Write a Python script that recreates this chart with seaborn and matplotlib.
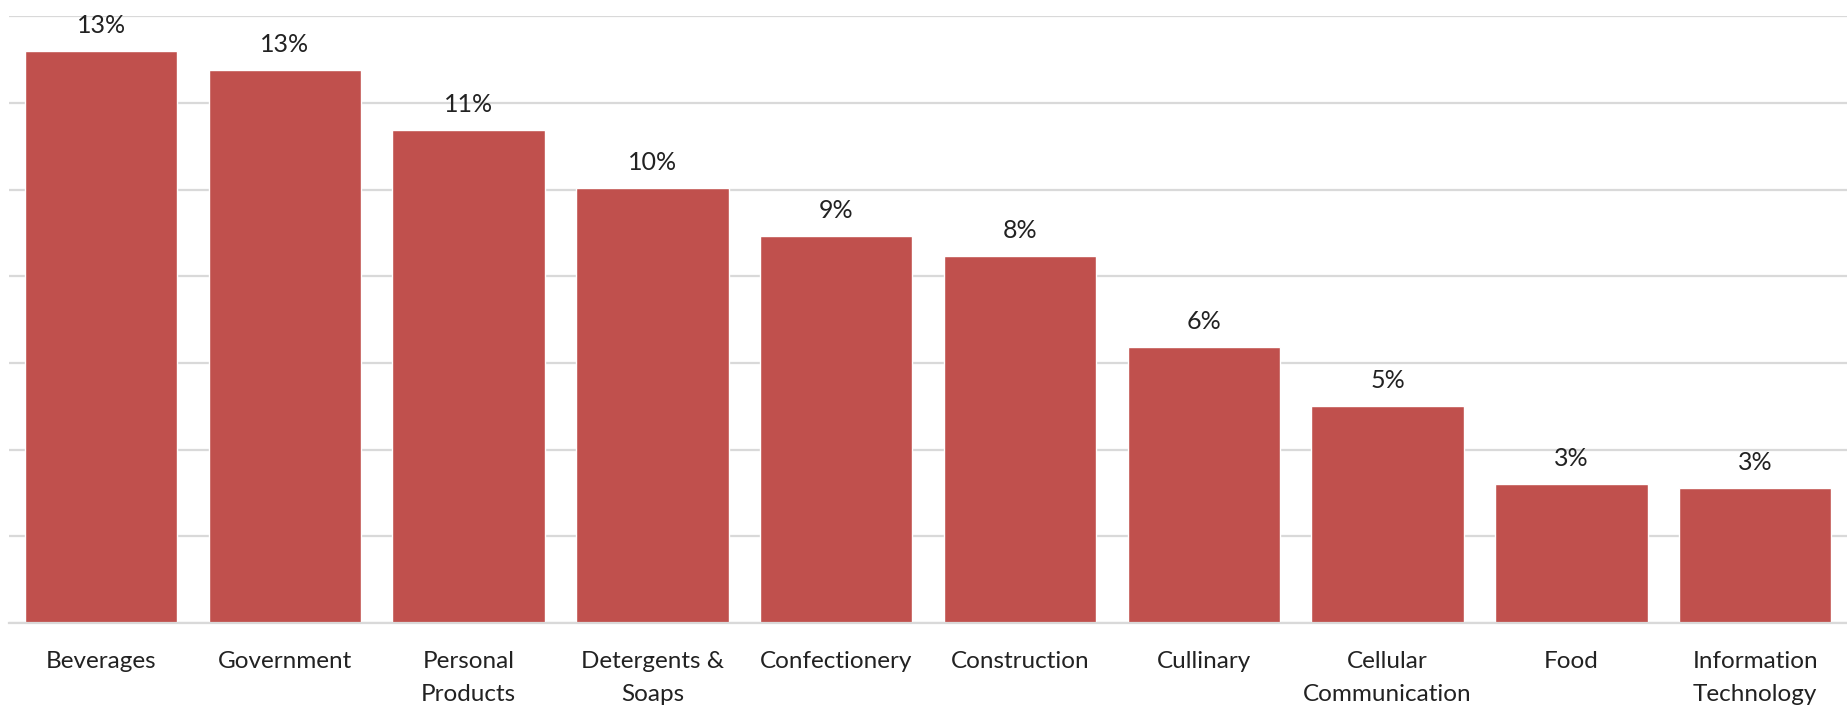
import matplotlib
matplotlib.use("Agg")
import matplotlib.pyplot as plt
import seaborn as sns
import pandas as pd

categories = ["Beverages", "Government", "Personal\nProducts", "Detergents &\nSoaps",
              "Confectionery", "Construction", "Cullinary", "Cellular\nCommunication",
              "Food", "Information\nTechnology"]
shares = [13.2, 12.76, 11.37, 10.05, 8.94, 8.47, 6.38, 5.01, 3.22, 3.13]
y_ticks = [0, 2, 4, 6, 8, 10, 12, 14]

sns.set_theme(style="white")
plt.rcParams['font.family'] = ['Lato', 'DejaVu Sans']

df = pd.DataFrame({"category": categories, "share": shares})

fig = plt.figure(figsize=(18.47, 7.13), dpi=100)
ax = fig.add_axes([0.005, 0.126, 0.995, 0.851])

sns.barplot(data=df, x="category", y="share", color="#C0504D", saturation=1,
            width=0.83, ax=ax)

ax.set_xlim(-0.5, len(categories) - 0.5)
ax.set_ylim(0, 14)
ax.set_yticks(y_ticks)
ax.set_yticklabels([])
ax.tick_params(axis="y", length=0)
ax.tick_params(axis="x", length=0, pad=20)
ax.yaxis.grid(True, color="#D9D9D9", linewidth=1.6)
ax.set_axisbelow(True)
for s in ["top", "right", "left"]:
    ax.spines[s].set_visible(False)
ax.spines["bottom"].set_color("#D9D9D9")
ax.spines["bottom"].set_linewidth(1.6)
ax.set_xlabel("")
ax.set_ylabel("")

for lbl in ax.get_xticklabels():
    lbl.set_fontsize(17.5)
    lbl.set_color("#222222")
    lbl.set_linespacing(1.7)
    lbl.set_verticalalignment("top")

for i, v in enumerate(shares):
    ax.annotate(f"{v:.0f}%", xy=(i, v), xytext=(0, 10), textcoords="offset points",
                ha="center", va="bottom", fontsize=18, color="#222222",
                annotation_clip=False)

fig.savefig("out.png", dpi=100)
